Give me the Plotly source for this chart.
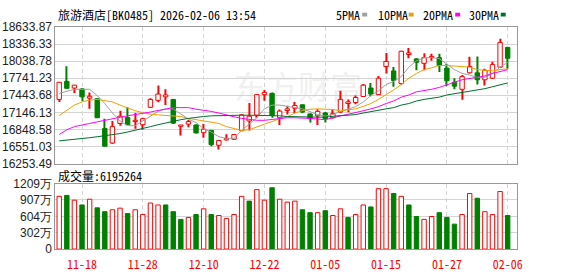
import plotly.graph_objects as go

# ---------------- data ----------------
dates = ["11-13", "11-14", "11-17", "11-18", "11-19", "11-20", "11-21", "11-24", "11-25", "11-26",
         "11-27", "11-28", "12-01", "12-02", "12-03", "12-04", "12-05", "12-08", "12-09", "12-10",
         "12-11", "12-12", "12-15", "12-16", "12-17", "12-18", "12-19", "12-22", "12-23", "12-24",
         "12-25", "12-26", "12-29", "12-30", "12-31", "01-05", "01-06", "01-07", "01-08", "01-09",
         "01-12", "01-13", "01-14", "01-15", "01-16", "01-19", "01-20", "01-21", "01-22", "01-23",
         "01-26", "01-27", "01-28", "01-29", "01-30", "02-02", "02-03", "02-04", "02-05", "02-06"]

open_ = [17372, 17686, 17570, 17554, 17394, 17383, 16865, 16612, 16953, 17058,
         16986, 16931, 17234, 17355, 17416, 17372, 16904, 16942, 16926, 16793,
         16832, 16573, 16667, 16678, 16827, 16997, 17096, 17455, 17477, 17052,
         17179, 17218, 17278, 17119, 17086, 17135, 17052, 17152, 17300, 17317,
         17422, 17570, 17455, 17945, 17868, 17647, 18154, 18077, 18000, 18099,
         18099, 17917, 17670, 17548, 17835, 17835, 17714, 17741, 17934, 18276]
close = [17670, 17565, 17620, 17416, 17427, 17052, 16557, 16898, 17080, 16931,
         17008, 17036, 17372, 17466, 17449, 16959, 16926, 16986, 16788, 16854,
         16584, 16656, 16689, 16760, 17102, 17080, 17455, 17493, 17091, 17168,
         17207, 17267, 17152, 17036, 17163, 17036, 17124, 17372, 17328, 17405,
         17620, 17466, 17741, 18033, 17703, 18210, 18182, 18017, 18099, 18121,
         17962, 17697, 17603, 17769, 17945, 17714, 17879, 17978, 18364, 18088]
high = [17670, 17951, 17620, 17565, 17493, 17394, 17036, 16997, 17174, 17234,
        17135, 17052, 17394, 17614, 17548, 17380, 16926, 17014, 16940, 16942,
        16840, 16656, 16766, 16760, 17113, 17311, 17455, 17537, 17493, 17196,
        17262, 17328, 17278, 17125, 17201, 17152, 17190, 17521, 17372, 17438,
        17642, 17659, 17780, 18182, 17934, 18220, 18265, 18088, 18176, 18165,
        18165, 17989, 17741, 17796, 18116, 18121, 17906, 18028, 18430, 18290]
low = [17328, 17565, 17482, 17344, 17207, 17047, 16556, 16601, 16915, 16931,
       16860, 16843, 17223, 17322, 17273, 16942, 16744, 16887, 16780, 16705,
       16556, 16501, 16656, 16667, 16821, 16832, 17052, 17350, 17052, 16926,
       17108, 17135, 17135, 16970, 16926, 16970, 17041, 17135, 17146, 17289,
       17416, 17427, 17449, 17824, 17592, 17631, 18088, 17879, 17879, 18044,
       17851, 17603, 17548, 17366, 17824, 17631, 17614, 17725, 17928, 17906]

ma5 = [17477, 17510, 17548, 17548, 17548, 17438, 17300, 17135, 16997, 16915,
       16915, 16997, 17080, 17163, 17207, 17207, 17119, 17025, 16970, 16860,
       16804, 16722, 16694, 16694, 16832, 16942, 17052, 17207, 17273, 17273,
       17245, 17229, 17207, 17152, 17108, 17080, 17108, 17163, 17207, 17245,
       17328, 17438, 17521, 17631, 17686, 17769, 17934, 18044, 18099, 18099,
       18083, 17989, 17890, 17824, 17796, 17752, 17758, 17824, 17934, 18017]
ma10 = [17091, 17190, 17273, 17328, 17361, 17372, 17355, 17328, 17273, 17218,
        17174, 17141, 17113, 17102, 17091, 17086, 17074, 17041, 17019, 16997,
        16981, 16953, 16898, 16860, 16832, 16843, 16898, 16942, 16986, 17036,
        17069, 17135, 17179, 17201, 17207, 17207, 17196, 17174, 17185, 17207,
        17251, 17300, 17372, 17449, 17537, 17631, 17741, 17824, 17890, 17923,
        17962, 17962, 17951, 17945, 17934, 17890, 17879, 17868, 17890, 17906]
ma20 = [16760, 16843, 16898, 16931, 16953, 16981, 17008, 17041, 17063, 17086,
        17108, 17124, 17152, 17179, 17207, 17229, 17229, 17229, 17201, 17185,
        17163, 17135, 17097, 17069, 17041, 17019, 17008, 17008, 17025, 17041,
        17052, 17052, 17052, 17041, 17030, 17019, 17052, 17080, 17108, 17135,
        17174, 17207, 17245, 17300, 17344, 17411, 17449, 17504, 17521, 17548,
        17581, 17631, 17670, 17714, 17736, 17758, 17780, 17824, 17862, 17890]
ma30 = [16650, 16661, 16678, 16694, 16705, 16722, 16738, 16755, 16777, 16804,
        16832, 16860, 16898, 16931, 16964, 16997, 17019, 17041, 17063, 17074,
        17086, 17091, 17097, 17097, 17097, 17097, 17097, 17097, 17097, 17086,
        17074, 17069, 17069, 17063, 17063, 17063, 17080, 17091, 17097, 17108,
        17135, 17163, 17190, 17207, 17229, 17273, 17300, 17344, 17372, 17394,
        17411, 17449, 17471, 17493, 17510, 17537, 17559, 17592, 17625, 17659]

# volume in 万
volume = [973, 991, 902, 814, 920, 761, 690, 725, 755, 655,
          725, 637, 849, 814, 814, 690, 548, 584, 637, 743,
          637, 619, 566, 637, 973, 885, 1097, 902, 1132, 920,
          867, 885, 725, 672, 672, 708, 619, 743, 584, 637,
          814, 778, 1115, 1115, 1026, 973, 814, 601, 548, 601,
          672, 584, 460, 637, 1026, 938, 690, 637, 1062, 619.5264]

price_ticks = [16253.49, 16551.03, 16848.58, 17146.13, 17443.68,
               17741.23, 18038.78, 18336.33, 18633.87]
vol_ticks = [0, 302, 604, 907, 1209]
vol_tick_text = ["0", "302万", "604万", "907万", "1209万"]
date_ticks = ["11-18", "11-28", "12-10", "12-22", "01-05", "01-15", "01-27", "02-06"]

title_text = "旅游酒店[BK0485] 2026-02-06 13:54"
vol_title = "成交量:6195264"
ma_names = ["5PMA", "10PMA", "20PMA", "30PMA"]

# ---------------- styles ----------------
W, H = 578, 276
RED = "#ff0000"
GREEN = "#008000"
MA_COLORS = ["#a0a0a0", "#f0a000", "#ff00ff", "#006f2e"]
GRID = "#d4d4d4"
FRAME = "#999999"
MONO = "Noto Sans Mono CJK SC, Noto Sans CJK SC, monospace"
SANS = "Liberation Sans, Arial, sans-serif"

L, R = 56, 522
MAIN_T, MAIN_B = 21, 165
VOL_T, VOL_B = 186, 255


def px(xp):
    return xp / W


def py(yp):
    return (H - yp) / H


x = list(range(len(dates)))
up = [c >= o for o, c in zip(open_, close)]
vol_up = [close[0] >= open_[0]] + [close[i] >= close[i - 1] for i in range(1, len(close))]

tick_idx = [dates.index(d) for d in date_ticks]

fig = go.Figure()

# wicks
fig.add_trace(go.Bar(
    x=x, y=[h - l for h, l in zip(high, low)], base=low, width=0.14,
    marker=dict(color=[RED if u else GREEN for u in up], line=dict(width=0)),
    xaxis="x", yaxis="y", hoverinfo="skip"))
# bodies
fig.add_trace(go.Bar(
    x=x, y=[max(abs(c - o), 1) for o, c in zip(open_, close)],
    base=[min(o, c) for o, c in zip(open_, close)], width=0.58,
    marker=dict(color=["white" if u else GREEN for u in up],
                line=dict(color=[RED if u else GREEN for u in up], width=1)),
    xaxis="x", yaxis="y"))

for name, vals, col in zip(ma_names, [ma5, ma10, ma20, ma30], MA_COLORS):
    fig.add_trace(go.Scatter(x=x, y=vals, mode="lines", name=name,
                             line=dict(color=col, width=1), xaxis="x", yaxis="y"))

# volume
fig.add_trace(go.Bar(
    x=x, y=volume, width=0.58,
    marker=dict(color=["white" if u else GREEN for u in vol_up],
                line=dict(color=[RED if u else GREEN for u in vol_up], width=1)),
    xaxis="x2", yaxis="y2"))

xr = [-0.5, 60.17]
common_x = dict(range=xr, tickvals=tick_idx, ticktext=date_ticks, showgrid=True,
                gridcolor=GRID, griddash="4px,3px", gridwidth=1, zeroline=False,
                showline=True, mirror=True, linecolor=FRAME, linewidth=1, ticks="",
                fixedrange=True)
common_y = dict(showgrid=True, gridcolor=GRID, gridwidth=1, zeroline=False,
                showline=True, mirror=True, linecolor=FRAME, linewidth=1, ticks="",
                tickfont=dict(family=SANS, size=12, color="#222222"))

fig.update_layout(
    width=W, height=H, margin=dict(l=0, r=0, t=0, b=0),
    paper_bgcolor="white", plot_bgcolor="white", showlegend=False,
    barmode="overlay",
    xaxis=dict(domain=[px(L), px(R)], anchor="y", showticklabels=False, **common_x),
    yaxis=dict(domain=[py(MAIN_B), py(MAIN_T)], anchor="x", range=[price_ticks[0], price_ticks[-1]],
               tickvals=price_ticks, ticktext=[f"{v:.2f}" for v in price_ticks], **common_y),
    xaxis2=dict(domain=[px(L), px(R)], anchor="y2", showticklabels=True, ticklabelstandoff=5,
                tickfont=dict(family=MONO, size=12, color=RED), **common_x),
    yaxis2=dict(domain=[py(VOL_B), py(VOL_T)], anchor="x2", range=[0, 1209],
                tickvals=vol_ticks, ticktext=vol_tick_text, **common_y),
)

annotations = [
    dict(text=title_text, x=px(57), y=py(8), xref="paper", yref="paper",
         xanchor="left", yanchor="middle", showarrow=False,
         font=dict(family=MONO, size=12, color="#000000")),
    dict(text=vol_title, x=px(57), y=py(177), xref="paper", yref="paper",
         xanchor="left", yanchor="middle", showarrow=False,
         font=dict(family=MONO, size=12, color="#000000")),
]
legend_x = [338, 380, 425, 472]
square_x = [366, 413, 460, 506]
shapes = []
for name, lx, sx, col in zip(ma_names, legend_x, square_x, MA_COLORS):
    annotations.append(dict(text=name, x=px(lx), y=py(8), xref="paper", yref="paper",
                            xanchor="left", yanchor="middle", showarrow=False,
                            font=dict(family=MONO, size=12, color="#000000")))
    shapes.append(dict(type="rect", xref="paper", yref="paper",
                       x0=px(sx), x1=px(sx + 5), y0=py(10), y1=py(6),
                       fillcolor=col, line=dict(width=0)))

# faint watermark
shapes.append(dict(type="rect", xref="paper", yref="paper", layer="between",
                   x0=px(225), x1=px(372), y0=py(102), y1=py(72),
                   line=dict(width=0), fillcolor="rgba(0,0,0,0)",
                   label=dict(text="东方财富", font=dict(family="Noto Sans CJK SC", size=32, color="#f0f0f0"),
                              textposition="middle right")))

fig.update_layout(annotations=annotations, shapes=shapes)

fig.write_html("out.html")
